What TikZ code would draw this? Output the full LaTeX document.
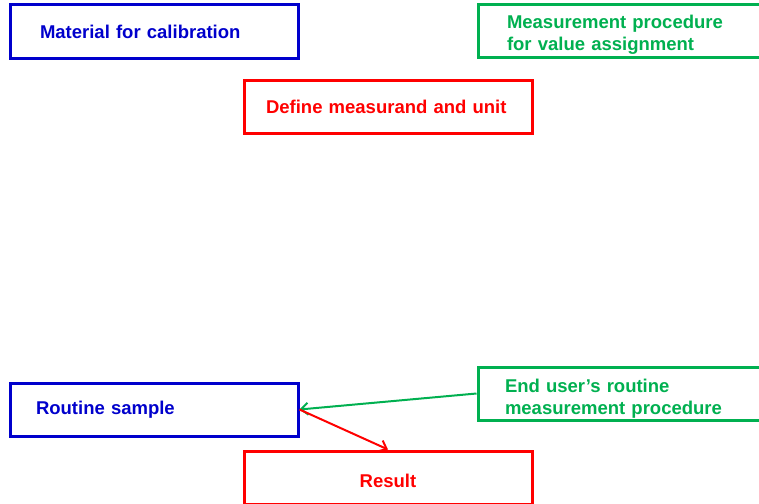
\documentclass[tikz,border=0pt]{standalone}
\usepackage{fontspec}
\setmainfont{Liberation Sans}
\usetikzlibrary{arrows.meta}
\definecolor{boxblue}{RGB}{0,0,204}
\definecolor{boxgreen}{RGB}{0,176,80}
\definecolor{boxred}{RGB}{255,0,0}
% invisible strut that lifts the top of the first text line
\newcommand{\toplift}[1]{\rule{0pt}{#1}}
\tikzset{
  box/.style={draw, line width=3pt, minimum height=53pt, inner ysep=0pt,
    align=left, font=\fontsize{18.5}{22}\selectfont\bfseries},
  bluebox/.style={box, draw=boxblue, text=boxblue},
  greenbox/.style={box, draw=boxgreen, text=boxgreen},
  redbox/.style={box, draw=boxred, text=boxred},
  link/.style={line width=2pt, -{Straight Barb[length=7pt,width=12pt]}}
}
\begin{document}
\begin{tikzpicture}[x=1pt, y=-1pt]
\useasboundingbox (0,0) rectangle (759,503);
\clip (0,0) rectangle (759,503);
\fill[white] (0,0) rectangle (759,503);

% top row
\node[bluebox, inner xsep=30pt, text width=228pt] (material) at (154,31.5)
  {Material for calibration};
\node[greenbox, inner xsep=29pt, text width=230pt] (assign) at (622,31)
  {\toplift{21pt}Measurement procedure\\for value assignment};
\node[redbox, inner xsep=22pt, text width=244pt] (define) at (388,107)
  {Define measurand and unit};

% bottom row
\node[bluebox, inner xsep=26pt, text width=236pt] (sample) at (154,409.5)
  {Routine sample};
\node[greenbox, inner xsep=27pt, text width=234pt] (routine) at (622,393.5)
  {\toplift{23pt}End user’s routine\\measurement procedure};
\node[redbox, inner xsep=22pt, text width=244pt, align=center] (result) at (388,477.5)
  {\toplift{21pt}Result};

% connectors
\draw[link, boxgreen] (routine.west) -- (sample.east);
\draw[link, boxred] (sample.east) -- (result.north);
\end{tikzpicture}
\end{document}
